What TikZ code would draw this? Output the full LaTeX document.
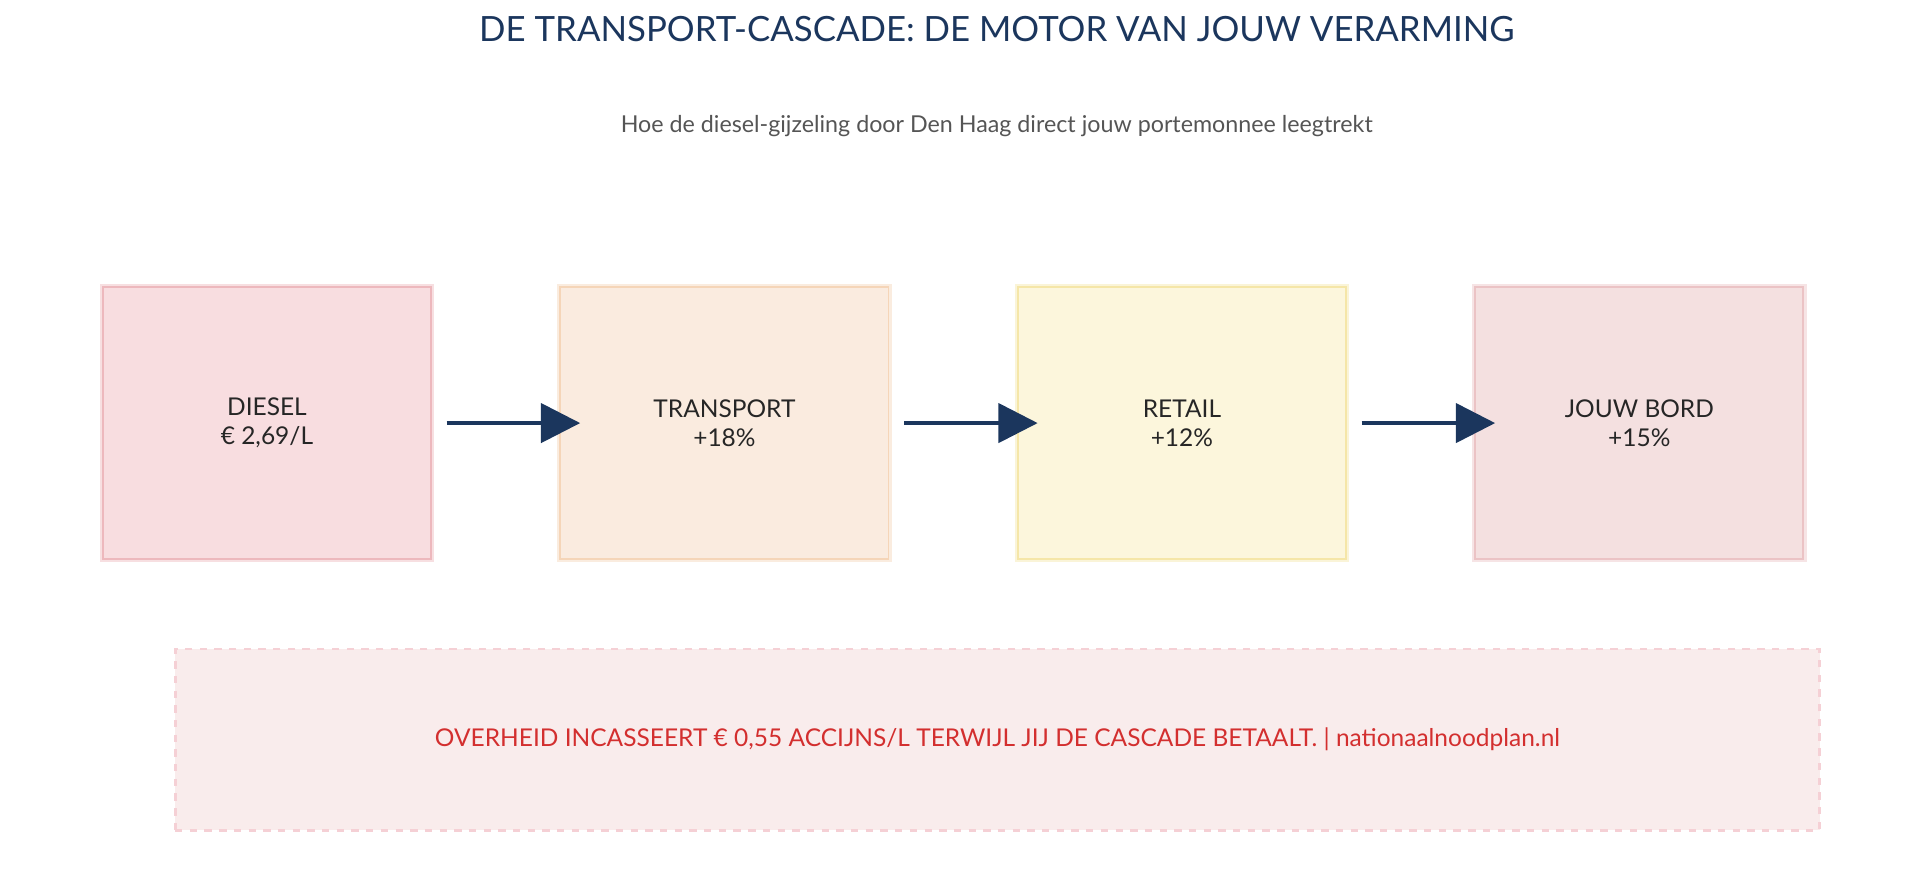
\documentclass[tikz,border=0pt]{standalone}
\usepackage{fontspec}
\setmainfont{Lato}
\usetikzlibrary{positioning, arrows.meta}
\definecolor{navy}{HTML}{1B365D}
\definecolor{subgrey}{HTML}{555555}
\definecolor{alarmred}{HTML}{D32F2F}
\definecolor{dieselfill}{HTML}{F8DDE0}\definecolor{dieselline}{HTML}{EDB8BD}
\definecolor{transfill}{HTML}{FAEBDF}\definecolor{transline}{HTML}{F5D5B8}
\definecolor{retailfill}{HTML}{FCF6DC}\definecolor{retailline}{HTML}{F5E6A8}
\definecolor{bordfill}{HTML}{F4E0E0}\definecolor{bordline}{HTML}{EBC3C5}
\definecolor{notefill}{HTML}{F9ECEC}\definecolor{noteline}{HTML}{F5D0D5}
\tikzset{
  stage/.style={draw=#1line, fill=#1fill, line width=0.8pt,
    preaction={draw=#1line!45, line width=2.6pt},
    minimum width=134pt, minimum height=111pt, align=center,
    font=\fontsize{10}{12}\selectfont, text=black!85},
  flow/.style={navy, line width=1.5pt, -{Triangle[length=16pt, width=16pt]},
    shorten <=6pt, shorten >=-8.5pt}
}
\begin{document}
\begin{tikzpicture}[x=0.5pt, y=-0.5pt, node distance=52pt]
  \useasboundingbox (0,0) rectangle (1568,713);
  \node [navy, font=\fontsize{14.2}{17}\selectfont] (title) at (814,24) {DE TRANSPORT-CASCADE: DE MOTOR VAN JOUW VERARMING};
  \node [subgrey, font=\fontsize{9.5}{11}\selectfont] (sub) at (814,103) {Hoe de diesel-gijzeling door Den Haag direct jouw portemonnee leegtrekt};
  \node [stage=diesel] (diesel) at (218,345.5) {DIESEL\\€ 2,69/L};
  \node [stage=trans, right=of diesel] (trans) {TRANSPORT\\+18\%};
  \node [stage=retail, right=of trans] (retail) {RETAIL\\+12\%};
  \node [stage=bord, right=of retail] (bord) {JOUW BORD\\+15\%};
  \draw [flow] (diesel) -- (trans);
  \draw [flow] (trans) -- (retail);
  \draw [flow] (retail) -- (bord);
  \node [draw=noteline, fill=notefill, dashed, line width=1.2pt,
    minimum width=671.5pt, minimum height=74pt, text=alarmred,
    font=\fontsize{10}{12}\selectfont] (note) at (814.5,604)
    {\raisebox{-7pt}{OVERHEID INCASSEERT € 0,55 ACCIJNS/L TERWIJL JIJ DE CASCADE BETAALT. | nationaalnoodplan.nl}};
\end{tikzpicture}
\end{document}
